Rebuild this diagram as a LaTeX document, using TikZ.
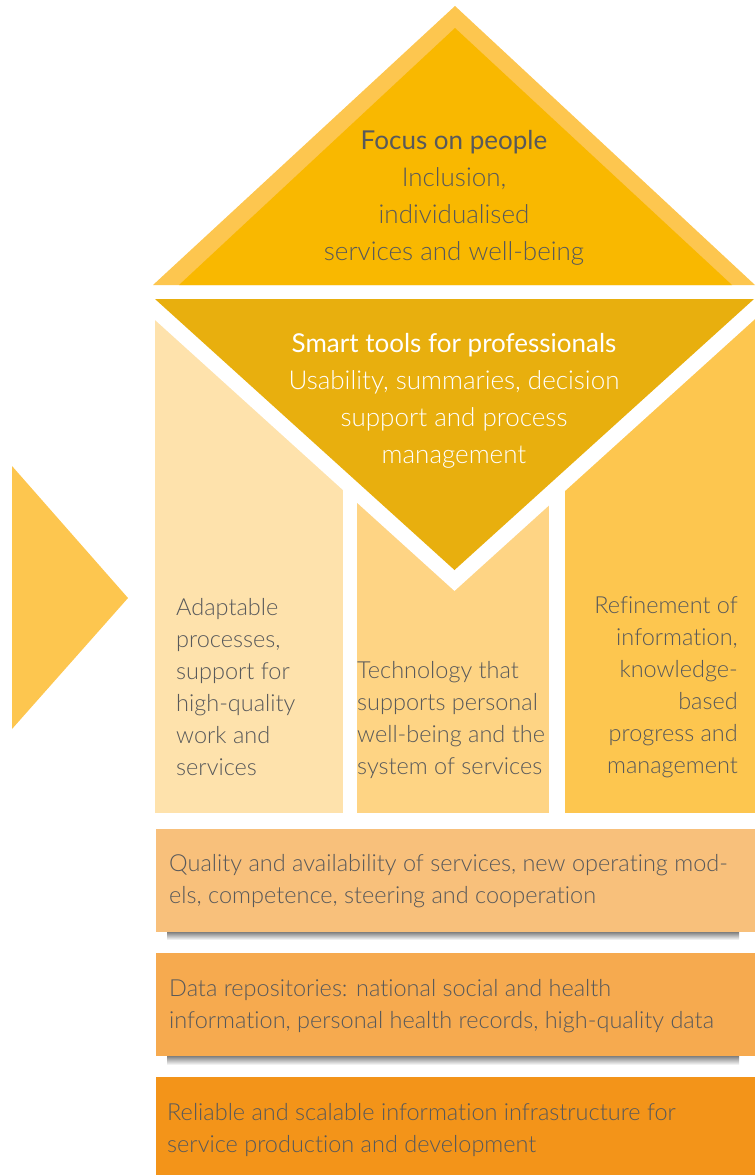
\documentclass[tikz,border=0pt]{standalone}
\usepackage{fontspec}
\setmainfont{Lato Light}[BoldFont=Lato, Ligatures=NoCommon]
\definecolor{goldtop}{HTML}{F9B800}
\definecolor{goldrim}{HTML}{FDC64F}
\definecolor{golddark}{HTML}{E8AF0E}
\definecolor{colA}{HTML}{FEE2AC}
\definecolor{colB}{HTML}{FED484}
\definecolor{colC}{HTML}{FDC64F}
\definecolor{bandA}{HTML}{F8C07B}
\definecolor{bandB}{HTML}{F6AA4F}
\definecolor{bandC}{HTML}{F39419}
\definecolor{shade}{HTML}{D9D9DB}
\definecolor{ink}{HTML}{58595B}
\tikzset{
  caption/.style={text=ink, inner sep=0pt, font=\fontsize{23.5}{32}\selectfont},
  heading/.style={caption, align=center, font=\fontsize{26}{37}\selectfont},
}
\begin{document}
\begin{tikzpicture}[x=1pt, y=-1pt]
            \useasboundingbox (0,0) rectangle (755,1175);
            \fill[colA] (155,299) rectangle (343,813);
            \fill[colB] (357,299) rectangle (549,813);
            \fill[colC] (565,299) rectangle (755,813);
            \path[fill=golddark, preaction={draw=white, line width=31pt, line join=miter}]
                (155,299) -- (754,299) -- (454.5,570) -- cycle;
            \fill[goldrim] (153,285) -- (455,6) -- (755,285) -- cycle;
            \fill[goldtop] (179,285) -- (455,28) -- (732,285) -- cycle;
            \fill[goldrim] (12,466) -- (128,598) -- (12,729) -- cycle;
            \fill[shade] (167,932) rectangle (739,940);
            \fill[bandA] (156,829) rectangle (755,932);
            \fill[shade] (167,1056) rectangle (739,1065);
            \fill[bandB] (156,953) rectangle (755,1056);
            \fill[bandC] (156,1077) rectangle (755,1175);
            \node[heading] (people) at (454,198)
                {\textbf{Focus on people}\\Inclusion,\\individualised\\services and well-being};
            \node[heading, text=white] (tools) at (454,401)
                {\textbf{Smart tools for professionals}\\Usability, summaries, decision\\support and process\\management};
            \node[caption, align=left, anchor=west] (adapt) at (176,687)
                {Adaptable\\processes,\\support for\\high-quality\\work and\\services};
            \node[caption, align=left, anchor=west] (tech) at (357,720)
                {Technology that\\supports personal\\well-being and the\\system of services};
            \node[caption, align=right, anchor=east] (refine) at (738,687)
                {Refinement of\\information,\\knowledge-\\based\\progress and\\management};
            \node[caption, align=left, anchor=west] (quality) at (169,881.5)
                {Quality and availability of services, new operating mod-\\els, competence, steering and cooperation};
            \node[caption, align=left, anchor=west] (data) at (169,1006)
                {Data repositories: national social and health\\information, personal health records, high-quality data};
            \node[caption, align=left, anchor=west] (infra) at (167,1130)
                {Reliable and scalable information infrastructure for\\service production and development};
        \end{tikzpicture}
\end{document}
